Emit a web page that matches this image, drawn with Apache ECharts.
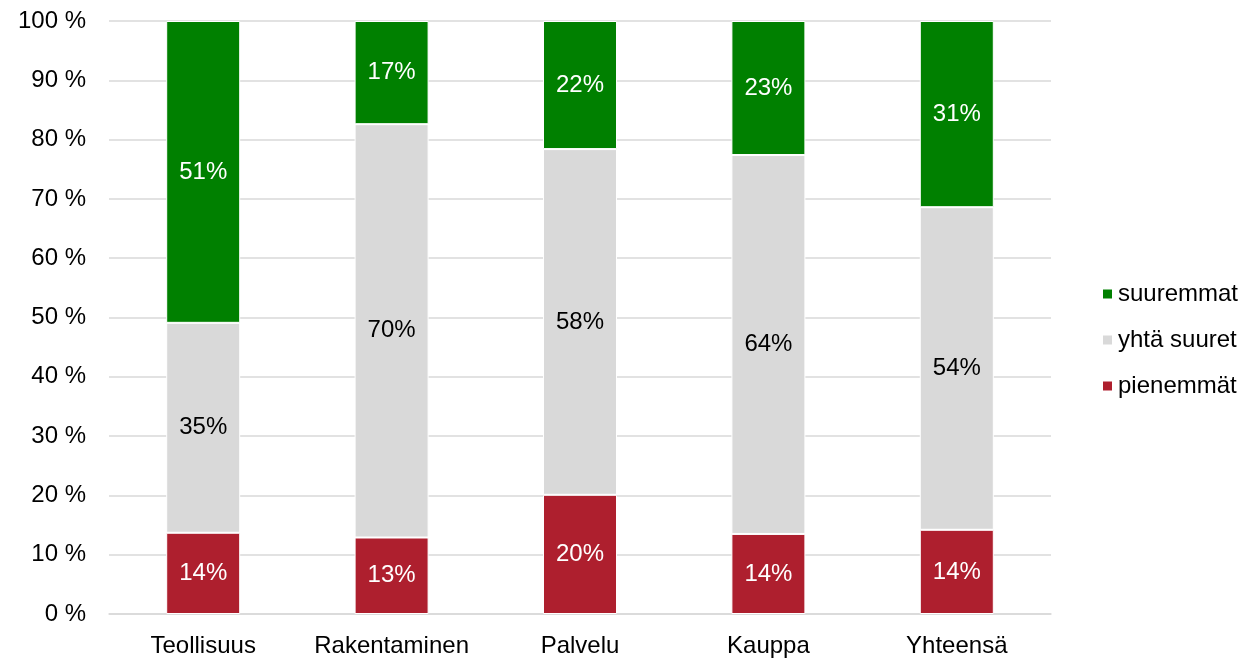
<!DOCTYPE html>
<html>
<head>
<meta charset="utf-8">
<script src="https://cdn.jsdelivr.net/npm/echarts@6/dist/echarts.min.js"></script>
<style>html,body{margin:0;padding:0;background:#fff}#c{width:1249px;height:660px}</style>
</head>
<body>
<div id="c"></div>
<script>
const categories = ['Teollisuus', 'Rakentaminen', 'Palvelu', 'Kauppa', 'Yhteensä'];
const pienemmat = [13.7, 12.9, 20.1, 13.5, 14.2];
const yhtaSuuret = [35.4, 69.7, 58.3, 63.9, 54.4];
const suuremmat = [50.9, 17.4, 21.6, 22.6, 31.4];
const yTicks = [0, 10, 20, 30, 40, 50, 60, 70, 80, 90, 100];

const font = '"Liberation Sans", Arial, sans-serif';
const fs = 24;
const chart = echarts.init(document.getElementById('c'));
function seg(name, data, color, labelColor) {
  return {
    name: name, type: 'bar', stack: 'total', data: data, barWidth: 74,
    itemStyle: { color: color, borderColor: '#fff', borderWidth: 1 },
    label: {
      show: true, position: 'inside', color: labelColor, fontSize: fs, fontFamily: font,
      formatter: p => Math.round(p.value) + '%'
    },
    emphasis: { disabled: true }
  };
}
chart.setOption({
  animation: false,
  grid: { left: 109, right: 198, top: 21, bottom: 46 },
  legend: {
    orient: 'vertical', left: 1096, top: 277, itemWidth: 11, itemHeight: 11, itemGap: 22,
    icon: 'rect',
    data: ['suuremmat', 'yhtä suuret', 'pienemmät'],
    textStyle: { fontSize: fs, fontFamily: font, color: '#000' }
  },
  xAxis: {
    type: 'category', data: categories,
    axisLine: { show: true, lineStyle: { color: '#d9d9d9', width: 1.5 } },
    axisTick: { show: false },
    axisLabel: { interval: 0, fontSize: fs, fontFamily: font, color: '#000', margin: 20 }
  },
  yAxis: {
    type: 'value', min: yTicks[0], max: yTicks[yTicks.length - 1], interval: 10,
    axisLine: { show: false }, axisTick: { show: false },
    axisLabel: { fontSize: fs, fontFamily: font, color: '#000', margin: 23, formatter: v => v + ' %' },
    splitLine: { lineStyle: { color: '#d9d9d9', width: 1.5 } }
  },
  series: [
    seg('pienemmät', pienemmat, '#ae1f2e', '#fff'),
    seg('yhtä suuret', yhtaSuuret, '#d9d9d9', '#000'),
    seg('suuremmat', suuremmat, '#008000', '#fff')
  ]
});
</script>
</body>
</html>
